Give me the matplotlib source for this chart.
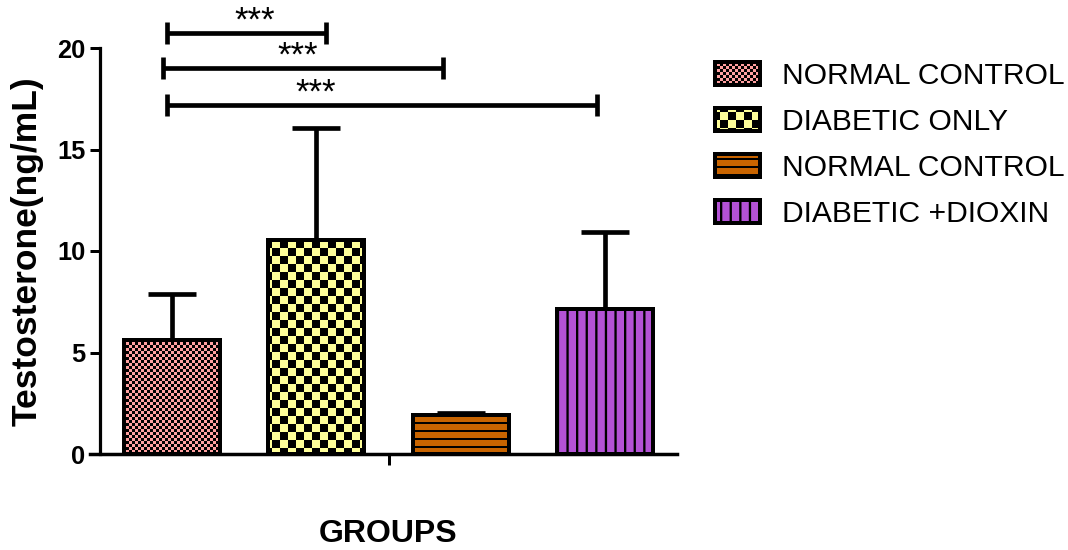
import numpy as np
import matplotlib
matplotlib.use("Agg")
import matplotlib.pyplot as plt
import matplotlib.hatch as mhatch
from matplotlib.path import Path

plt.rcParams['font.family'] = ['Liberation Sans', 'DejaVu Sans']
plt.rcParams['hatch.linewidth'] = 0.0
plt.rcParams['hatch.color'] = 'black'

# data
groups = ["NORMAL CONTROL", "DIABETIC ONLY", "NORMAL CONTROL", "DIABETIC +DIOXIN"]
means = [5.64, 10.54, 1.90, 7.16]
sd_up = [2.24, 5.52, 0.10, 3.78]

# significance brackets (x in bar units, y in ng/mL)
sig_labels = ["***", "***", "***"]
sig_x0 = [-0.035, -0.062, -0.035]
sig_x1 = [1.067, 1.878, 2.945]
sig_y = [20.74, 19.01, 17.19]
sig_text_x = [0.575, 0.873, 0.998]

colors = ["#FFA0A0", "#FFFF99", "#C86400", "#B452D6"]
hatches = ["*" * 16, "*" * 6, "-" * 12, "|" * 10]


# filled-rectangle hatches (checkerboard / stripes), Prism style
class _RectHatch(mhatch.HatchPatternBase):
    char = ""

    def __init__(self, hatch, density):
        n = hatch.count(self.char)
        self.rects = self.make(n) if n else []
        self.num_vertices = 5 * len(self.rects)

    def set_vertices_and_codes(self, vertices, codes):
        for k, (x0, y0, x1, y1) in enumerate(self.rects):
            vertices[5 * k:5 * k + 5] = [(x0, y0), (x1, y0), (x1, y1), (x0, y1), (x0, y0)]
            codes[5 * k:5 * k + 5] = [Path.MOVETO, Path.LINETO, Path.LINETO,
                                      Path.LINETO, Path.CLOSEPOLY]


class Checker(_RectHatch):
    char = "*"

    def make(self, n):
        n = 2 * n
        s = 1.0 / n
        return [(i * s, j * s, (i + 1) * s, (j + 1) * s)
                for i in range(n) for j in range(n) if (i + j) % 2 == 0]


class HStripes(_RectHatch):
    char = "-"

    def make(self, n):
        s = 1.0 / n
        return [(0, i * s, 1, i * s + s * 0.25) for i in range(n)]


class VStripes(_RectHatch):
    char = "|"

    def make(self, n):
        s = 1.0 / n
        return [(i * s, 0, i * s + s * 0.24, 1) for i in range(n)]


mhatch._hatch_types = [Checker, HStripes, VStripes]

fig = plt.figure(figsize=(1068 / 96, 550 / 96), dpi=96)
ax = fig.add_axes([100 / 1068, 96 / 550, 577 / 1068, 406 / 550])

x = np.arange(len(groups))
bars = ax.bar(x, means, width=0.665, color=colors, edgecolor='black',
              linewidth=3, zorder=2)
for b, h in zip(bars, hatches):
    b.set_hatch(h)

ax.errorbar(x, means, yerr=[np.zeros(len(means)), sd_up], fmt='none',
            ecolor='black', elinewidth=3.5, capsize=18, capthick=3.5, zorder=1)

# significance brackets
for x0, x1, y, lab, tx in zip(sig_x0, sig_x1, sig_y, sig_labels, sig_text_x):
    ax.plot([x0, x1], [y, y], color='black', lw=3.5, clip_on=False,
            solid_capstyle='butt')
    for xe in (x0, x1):
        ax.plot([xe, xe], [y - 0.54, y + 0.54], color='black', lw=3.5,
                clip_on=False, solid_capstyle='butt')
    ax.text(tx, y + 0.1, lab, ha='center', va='baseline', fontsize=26,
            clip_on=False)

ax.set_xlim(-0.5, 3.5)
ax.set_ylim(0, 20)
ax.set_yticks([0, 5, 10, 15, 20])
ax.set_xticks([1.5])
ax.set_xticklabels([''])
for s in ('top', 'right'):
    ax.spines[s].set_visible(False)
ax.spines['left'].set_linewidth(2.4)
ax.spines['bottom'].set_linewidth(2.6)
ax.spines['left'].set_bounds(0, 20)
ax.spines['bottom'].set_bounds(-0.569, 3.5)
ax.tick_params(axis='y', length=7.5, width=2.25, pad=3.5, labelsize=19)
ax.tick_params(axis='x', length=8, width=2.25)
for t in ax.get_yticklabels():
    t.set_fontweight('bold')

ax.set_ylabel("Testosterone(ng/mL)", fontsize=26.5, fontweight='bold', va='center')
ax.yaxis.set_label_coords(-0.1265, 0.5)
ax.set_xlabel("GROUPS", fontsize=24, fontweight='bold', va='center')
ax.xaxis.set_label_coords(0.5, -0.197)

fig.legend(bars, groups, loc='upper left', bbox_to_anchor=(715 / 1068, 1 - 62 / 550),
           frameon=False, fontsize=22.5, handlelength=1.5, handleheight=0.8,
           handletextpad=0.75, labelspacing=0.6, borderpad=0, borderaxespad=0)

fig.savefig("out.png", dpi=96)
